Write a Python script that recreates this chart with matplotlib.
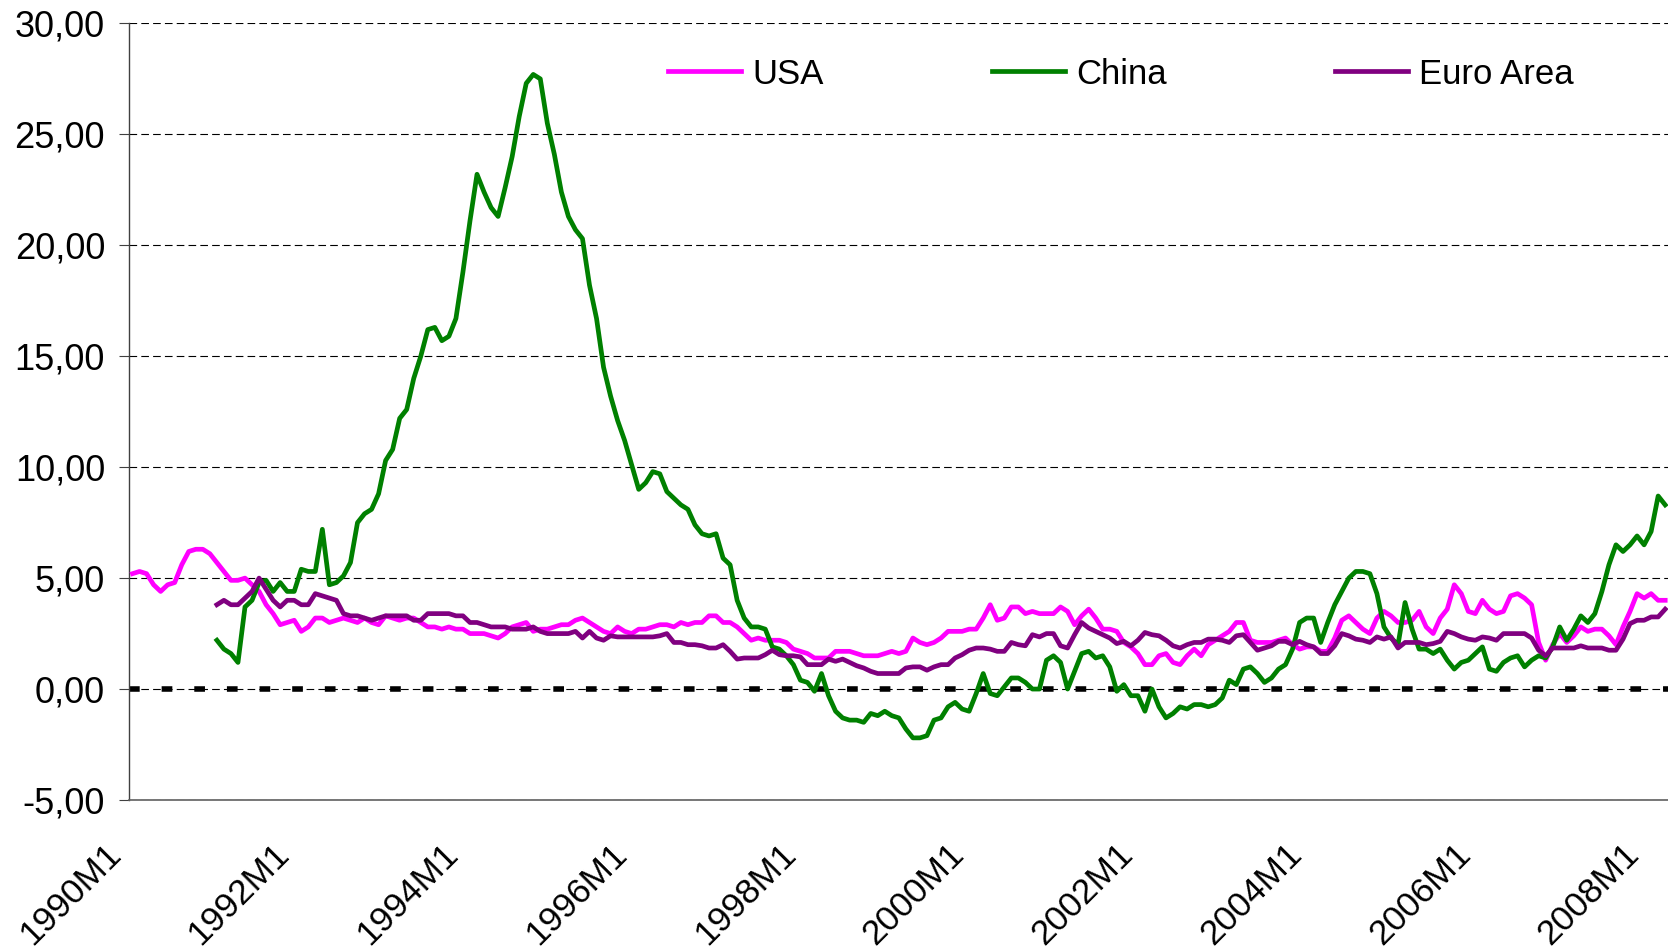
import numpy as np
import matplotlib.pyplot as plt
from matplotlib.transforms import ScaledTranslation

plt.rcParams['font.family'] = ['Liberation Sans', 'DejaVu Sans']
plt.rcParams['lines.scale_dashes'] = False

# monthly y/y inflation, 1990M1 .. 2008M3
usa = [
    5.2, 5.3, 5.2, 4.7, 4.4, 4.7, 4.8, 5.6, 6.2, 6.3, 6.3, 6.1,   # 1990
    5.7, 5.3, 4.9, 4.9, 5.0, 4.7, 4.4, 3.8, 3.4, 2.9, 3.0, 3.1,   # 1991
    2.6, 2.8, 3.2, 3.2, 3.0, 3.1, 3.2, 3.1, 3.0, 3.2, 3.0, 2.9,   # 1992
    3.3, 3.2, 3.1, 3.2, 3.2, 3.0, 2.8, 2.8, 2.7, 2.8, 2.7, 2.7,   # 1993
    2.5, 2.5, 2.5, 2.4, 2.3, 2.5, 2.8, 2.9, 3.0, 2.6, 2.7, 2.7,   # 1994
    2.8, 2.9, 2.9, 3.1, 3.2, 3.0, 2.8, 2.6, 2.5, 2.8, 2.6, 2.5,   # 1995
    2.7, 2.7, 2.8, 2.9, 2.9, 2.8, 3.0, 2.9, 3.0, 3.0, 3.3, 3.3,   # 1996
    3.0, 3.0, 2.8, 2.5, 2.2, 2.3, 2.2, 2.2, 2.2, 2.1, 1.8, 1.7,   # 1997
    1.6, 1.4, 1.4, 1.4, 1.7, 1.7, 1.7, 1.6, 1.5, 1.5, 1.5, 1.6,   # 1998
    1.7, 1.6, 1.7, 2.3, 2.1, 2.0, 2.1, 2.3, 2.6, 2.6, 2.6, 2.7,   # 1999
    2.7, 3.2, 3.8, 3.1, 3.2, 3.7, 3.7, 3.4, 3.5, 3.4, 3.4, 3.4,   # 2000
    3.7, 3.5, 2.9, 3.3, 3.6, 3.2, 2.7, 2.7, 2.6, 2.1, 1.9, 1.6,   # 2001
    1.1, 1.1, 1.5, 1.6, 1.2, 1.1, 1.5, 1.8, 1.5, 2.0, 2.2, 2.4,   # 2002
    2.6, 3.0, 3.0, 2.2, 2.1, 2.1, 2.1, 2.2, 2.3, 2.0, 1.8, 1.9,   # 2003
    1.9, 1.7, 1.7, 2.3, 3.1, 3.3, 3.0, 2.7, 2.5, 3.2, 3.5, 3.3,   # 2004
    3.0, 3.0, 3.1, 3.5, 2.8, 2.5, 3.2, 3.6, 4.7, 4.3, 3.5, 3.4,   # 2005
    4.0, 3.6, 3.4, 3.5, 4.2, 4.3, 4.1, 3.8, 2.1, 1.3, 2.0, 2.5,   # 2006
    2.1, 2.4, 2.8, 2.6, 2.7, 2.7, 2.4, 2.0, 2.8, 3.5, 4.3, 4.1,   # 2007
    4.3, 4.0, 4.0,                                                 # 2008
]

china = [np.nan] * 12 + [
    2.2, 1.8, 1.6, 1.2, 3.7, 4.0, 4.8, 4.9, 4.4, 4.8, 4.4, 4.4,
    5.4, 5.3, 5.3, 7.2, 4.7, 4.8, 5.1, 5.7, 7.5, 7.9, 8.1, 8.8,
    10.3, 10.8, 12.2, 12.6, 14.0, 15.0, 16.2, 16.3, 15.7, 15.9, 16.7, 18.8,
    21.1, 23.2, 22.4, 21.7, 21.3, 22.6, 24.0, 25.8, 27.3, 27.7, 27.5, 25.5,
    24.1, 22.4, 21.3, 20.7, 20.3, 18.2, 16.7, 14.5, 13.2, 12.1, 11.2, 10.1,
    9.0, 9.3, 9.8, 9.7, 8.9, 8.6, 8.3, 8.1, 7.4, 7.0, 6.9, 7.0,
    5.9, 5.6, 4.0, 3.2, 2.8, 2.8, 2.7, 1.9, 1.8, 1.5, 1.1, 0.4,
    0.3, -0.1, 0.7, -0.3, -1.0, -1.3, -1.4, -1.4, -1.5, -1.1, -1.2, -1.0,
    -1.2, -1.3, -1.8, -2.2, -2.2, -2.1, -1.4, -1.3, -0.8, -0.6, -0.9, -1.0,
    -0.2, 0.7, -0.2, -0.3, 0.1, 0.5, 0.5, 0.3, 0.0, 0.0, 1.3, 1.5,
    1.2, 0.0, 0.8, 1.6, 1.7, 1.4, 1.5, 1.0, -0.1, 0.2, -0.3, -0.3,
    -1.0, 0.0, -0.8, -1.3, -1.1, -0.8, -0.9, -0.7, -0.7, -0.8, -0.7, -0.4,
    0.4, 0.2, 0.9, 1.0, 0.7, 0.3, 0.5, 0.9, 1.1, 1.8, 3.0, 3.2,
    3.2, 2.1, 3.0, 3.8, 4.4, 5.0, 5.3, 5.3, 5.2, 4.3, 2.8, 2.3,
    2.0, 3.9, 2.7, 1.8, 1.8, 1.6, 1.8, 1.3, 0.9, 1.2, 1.3, 1.6,
    1.9, 0.9, 0.8, 1.2, 1.4, 1.5, 1.0, 1.3, 1.5, 1.4, 1.9, 2.8,
    2.2, 2.7, 3.3, 3.0, 3.4, 4.4, 5.6, 6.5, 6.2, 6.5, 6.9, 6.5,
    7.1, 8.7, 8.3,
]

euro = [np.nan] * 12 + [
    3.8, 4.0, 3.8, 3.8, 4.1, 4.4, 5.0, 4.5, 4.0, 3.7, 4.0, 4.0,
    3.8, 3.8, 4.3, 4.2, 4.1, 4.0, 3.4, 3.3, 3.3, 3.2, 3.1, 3.2,
    3.3, 3.3, 3.3, 3.3, 3.1, 3.1, 3.4, 3.4, 3.4, 3.4, 3.3, 3.3,
    3.0, 3.0, 2.9, 2.8, 2.8, 2.8, 2.7, 2.7, 2.7, 2.8, 2.6, 2.5,
    2.5, 2.5, 2.5, 2.6, 2.3, 2.6, 2.3, 2.2, 2.4, 2.35, 2.35, 2.35,
    2.35, 2.35, 2.35, 2.4, 2.5, 2.1, 2.1, 2.0, 2.0, 1.95, 1.85, 1.85,
    2.0, 1.7, 1.35, 1.4, 1.4, 1.4, 1.55, 1.75, 1.55, 1.5, 1.5, 1.45,
    1.1, 1.1, 1.1, 1.35, 1.25, 1.35, 1.2, 1.05, 0.95, 0.8, 0.7, 0.7,
    0.7, 0.7, 0.95, 1.0, 1.0, 0.85, 1.0, 1.1, 1.1, 1.4, 1.55, 1.75,
    1.85, 1.85, 1.8, 1.7, 1.7, 2.1, 2.0, 1.95, 2.45, 2.35, 2.5, 2.5,
    1.95, 1.85, 2.45, 3.0, 2.75, 2.6, 2.45, 2.3, 2.05, 2.15, 1.95, 2.2,
    2.55, 2.45, 2.4, 2.2, 1.95, 1.85, 2.0, 2.1, 2.1, 2.25, 2.25, 2.2,
    2.1, 2.4, 2.45, 2.1, 1.75, 1.85, 1.95, 2.15, 2.15, 2.0, 2.15, 2.0,
    1.9, 1.6, 1.6, 1.95, 2.5, 2.4, 2.25, 2.2, 2.1, 2.35, 2.25, 2.35,
    1.85, 2.1, 2.1, 2.1, 2.0, 2.05, 2.15, 2.6, 2.5, 2.35, 2.25, 2.2,
    2.35, 2.3, 2.2, 2.5, 2.5, 2.5, 2.5, 2.3, 1.75, 1.5, 1.85, 1.85,
    1.85, 1.85, 1.95, 1.85, 1.85, 1.85, 1.75, 1.75, 2.25, 2.95, 3.1, 3.1,
    3.25, 3.25, 3.6,
]

month_idx = np.arange(len(usa))
x_tick_pos = list(range(0, 217, 24))
x_tick_labels = ['1990M1', '1992M1', '1994M1', '1996M1', '1998M1',
                 '2000M1', '2002M1', '2004M1', '2006M1', '2008M1']
y_ticks = [-5, 0, 5, 10, 15, 20, 25, 30]
y_tick_labels = ['-5,00', '0,00', '5,00', '10,00', '15,00', '20,00', '25,00', '30,00']

COLORS = {'USA': '#FF00FF', 'China': '#008000', 'Euro Area': '#800080'}

fig = plt.figure(figsize=(16.68, 9.52), dpi=100)
ax = fig.add_axes([129 / 1668, 152 / 952, 1539 / 1668, 776.6 / 952])

lw = 3.4
ax.plot(month_idx, usa, color=COLORS['USA'], lw=lw, label='USA', zorder=3)
ax.plot(month_idx, china, color=COLORS['China'], lw=lw, label='China', zorder=3)
ax.plot(month_idx, euro, color=COLORS['Euro Area'], lw=lw, label='Euro Area', zorder=3)

# thick dotted zero line
ax.axhline(0, color='black', lw=4.0, linestyle=(0, (7.7, 15.8)), zorder=2)

ax.set_xlim(-0.5, 218.4)
ax.set_ylim(-5, 30)
ax.set_yticks(y_ticks)
ax.set_yticklabels(y_tick_labels)
ax.set_xticks(x_tick_pos)
ax.set_xticklabels(x_tick_labels)

ax.grid(axis='y', color='black', linewidth=0.8, linestyle=(0, (5.5, 3.0)), zorder=1)
ax.set_axisbelow(True)

for s in ('top', 'right'):
    ax.spines[s].set_visible(False)
ax.spines['left'].set_color('#404040')
ax.spines['left'].set_linewidth(1.0)
ax.spines['bottom'].set_color('#606060')
ax.spines['bottom'].set_linewidth(1.2)

ax.tick_params(axis='y', direction='out', length=7.2, width=0.8, color='#404040',
               labelsize=26, pad=10)
ax.tick_params(axis='x', length=0, labelsize=25.5, pad=35.3)
shift = ScaledTranslation(-17 / 100, 0, fig.dpi_scale_trans)
for lab in ax.get_xticklabels():
    lab.set_rotation(45)
    lab.set_ha('right')
    lab.set_va('center')
    lab.set_rotation_mode('anchor')
    lab.set_transform(lab.get_transform() + shift)

ax.legend(loc='center left', bbox_to_anchor=(668 / 1668, 1 - 74 / 952),
          bbox_transform=fig.transFigure, ncol=3, frameon=False, fontsize=25,
          handlelength=2.1, handletextpad=0.32, columnspacing=4.85,
          borderpad=0, borderaxespad=0)

fig.savefig('out.png', dpi=100)
